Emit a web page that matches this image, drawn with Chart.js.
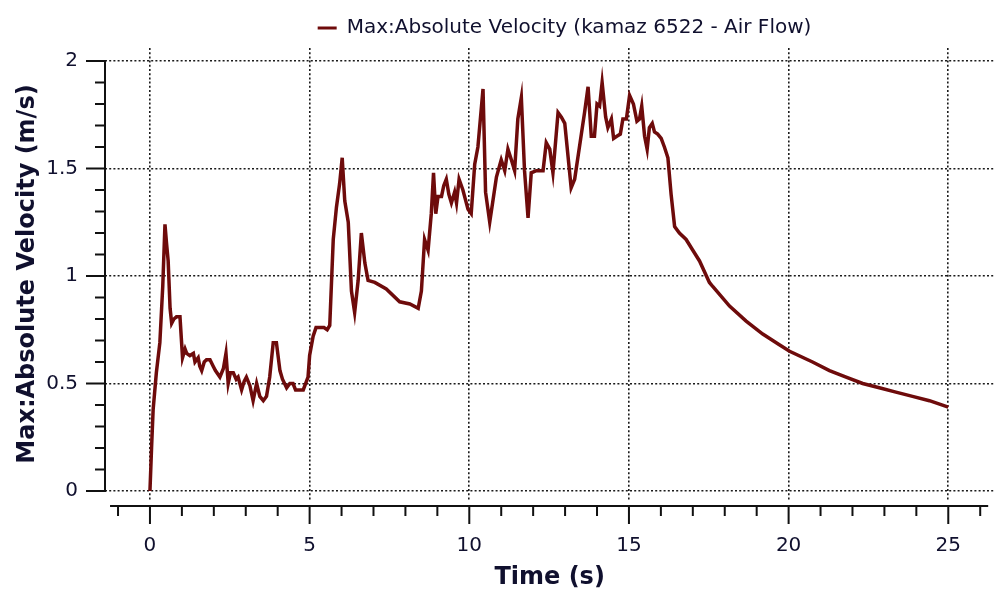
<!DOCTYPE html>
<html>
<head>
<meta charset="utf-8">
<script src="https://cdn.jsdelivr.net/npm/chart.js@4.4.0/dist/chart.umd.min.js"></script>
<style>
html,body{margin:0;padding:0;background:#fff}
#wrap{width:995px;height:592px;position:relative}
</style>
</head>
<body>
<div id="wrap"><canvas id="velChart"></canvas></div>
<script>
// values
const timeS = [0,0.05,0.1,0.2,0.31,0.4,0.47,0.52,0.57,0.63,0.68,0.75,0.83,0.94,1.02,1.1,1.15,1.25,1.36,1.41,1.51,1.56,1.62,1.7,1.77,1.88,1.98,2.05,2.19,2.3,2.38,2.45,2.52,2.61,2.7,2.76,2.87,2.95,3.02,3.13,3.23,3.34,3.44,3.55,3.65,3.75,3.86,3.96,4.07,4.15,4.28,4.38,4.48,4.56,4.64,4.8,4.9,4.95,5.0,5.11,5.2,5.32,5.45,5.55,5.63,5.74,5.84,5.94,6.02,6.1,6.21,6.31,6.41,6.52,6.62,6.73,6.83,7.04,7.4,7.82,8.14,8.4,8.5,8.6,8.71,8.81,8.88,8.95,9.02,9.13,9.2,9.28,9.36,9.44,9.54,9.6,9.68,9.8,9.96,10.06,10.17,10.27,10.43,10.51,10.64,10.74,10.85,11.0,11.11,11.21,11.32,11.42,11.52,11.63,11.73,11.84,11.94,12.1,12.31,12.41,12.52,12.62,12.78,12.88,12.99,13.19,13.3,13.51,13.61,13.72,13.82,13.92,14.0,14.08,14.16,14.27,14.34,14.45,14.52,14.62,14.73,14.81,14.92,15.02,15.14,15.25,15.33,15.4,15.49,15.57,15.64,15.73,15.8,15.9,16.01,16.11,16.22,16.32,16.43,16.58,16.79,17.0,17.21,17.52,17.63,18.15,18.67,19.19,19.71,20.03,20.75,21.28,21.8,22.32,22.84,23.36,23.88,24.41,25.0]
const maxVelocity = [0,0.2,0.38,0.55,0.69,0.95,1.24,1.15,1.07,0.85,0.78,0.8,0.81,0.81,0.62,0.66,0.64,0.63,0.64,0.6,0.62,0.58,0.56,0.6,0.61,0.61,0.58,0.56,0.53,0.57,0.64,0.5,0.55,0.55,0.52,0.53,0.47,0.51,0.53,0.49,0.42,0.5,0.44,0.42,0.44,0.53,0.69,0.69,0.56,0.52,0.48,0.5,0.5,0.47,0.47,0.47,0.51,0.53,0.63,0.72,0.76,0.76,0.76,0.75,0.77,1.17,1.32,1.43,1.55,1.35,1.25,0.93,0.83,0.98,1.2,1.06,0.98,0.97,0.94,0.88,0.87,0.85,0.93,1.17,1.12,1.29,1.48,1.29,1.37,1.37,1.42,1.45,1.38,1.34,1.39,1.34,1.45,1.4,1.31,1.29,1.52,1.6,1.87,1.39,1.25,1.35,1.46,1.54,1.49,1.59,1.54,1.49,1.73,1.83,1.49,1.27,1.48,1.49,1.49,1.62,1.59,1.48,1.76,1.74,1.71,1.41,1.45,1.66,1.76,1.88,1.65,1.65,1.8,1.79,1.9,1.74,1.69,1.73,1.64,1.65,1.66,1.73,1.73,1.84,1.8,1.72,1.73,1.79,1.65,1.59,1.69,1.71,1.67,1.66,1.64,1.6,1.55,1.38,1.23,1.2,1.17,1.12,1.07,0.97,0.95,0.86,0.79,0.73,0.68,0.65,0.6,0.56,0.53,0.5,0.48,0.46,0.44,0.42,0.39]
const seriesLabel = 'Max:Absolute Velocity (kamaz 6522 - Air Flow)'
const xTitle = 'Time (s)'
const yTitle = 'Max:Absolute Velocity (m/s)'

const lineColor = '#6e0b0b'
const textColor = '#10102e'
const fontFam = "'DejaVu Sans', sans-serif"

function isMult(v, step){ const r = v/step; return Math.abs(r - Math.round(r)) < 1e-6 }

// axis lines + major/minor tick marks, drawn off the scales
const axisMarks = {
  id:'axisMarks',
  afterLayout(chart){
    // legend sits right of centre in the reference
    chart.legend.left = 134
  },
  afterDraw(chart){
    const {ctx, scales:{x, y}, chartArea:a} = chart
    ctx.save()
    ctx.strokeStyle = '#111'
    ctx.lineWidth = 2
    ctx.beginPath()
    ctx.moveTo(a.left, y.getPixelForValue(0)+1)
    ctx.lineTo(a.left, y.getPixelForValue(2)-1)
    for(let i=0;i<=20;i++){
      const v = i/10, py = y.getPixelForValue(v)
      const len = isMult(v,0.5) ? 19 : 10
      ctx.moveTo(a.left, py); ctx.lineTo(a.left-len, py)
    }
    const ay = a.bottom + 6
    ctx.moveTo(x.getPixelForValue(-1.25), ay)
    ctx.lineTo(x.getPixelForValue(26.25), ay)
    for(let v=-1; v<=26; v++){
      const px = x.getPixelForValue(v)
      const len = isMult(v,5) ? 18 : 10
      ctx.moveTo(px, ay); ctx.lineTo(px, ay+len)
    }
    ctx.stroke()
    ctx.restore()
  }
}

// v4 takes the grid line dash from border.dash
const dotted = {display:false, dash:[2,2.2]}
const gridStyle = {color:'#1a1a1a', lineWidth:1.6, drawTicks:false}

new Chart(document.getElementById('velChart'), {
  type:'line',
  data:{datasets:[{
    label:seriesLabel,
    data:timeS.map((t,i)=>({x:t, y:maxVelocity[i]})),
    borderColor:lineColor, backgroundColor:lineColor,
    borderWidth:3.5, pointRadius:0, tension:0
  }]},
  options:{
    responsive:true, maintainAspectRatio:false, animation:false,
    layout:{padding:0},
    plugins:{
      tooltip:{enabled:false},
      legend:{
        position:'top', align:'center', maxHeight:48,
        labels:{
          color:textColor, font:{family:fontFam, size:20},
          boxWidth:19, boxHeight:3, padding:18,
          generateLabels(chart){
            return Chart.defaults.plugins.legend.labels.generateLabels(chart)
              .map(l=>Object.assign(l, {lineWidth:0, fillStyle:lineColor}))
          }
        }
      }
    },
    scales:{
      x:{
        type:'linear', min:-1.408, max:26.44,
        border:dotted,
        grid:gridStyle,
        ticks:{stepSize:5, includeBounds:false, padding:34, color:textColor, font:{family:fontFam, size:20}},
        title:{display:true, text:xTitle, color:textColor, font:{family:fontFam, size:24, weight:'bold'}, padding:{top:0,bottom:0}},
        afterFit(s){ s.height = 92 }
      },
      y:{
        min:-0.0419, max:2.0605,
        border:dotted,
        grid:gridStyle,
        ticks:{stepSize:0.5, includeBounds:false, padding:27, color:textColor, font:{family:fontFam, size:20},
          callback:v=>String(Math.round(v*10)/10)},
        title:{display:true, text:yTitle, color:textColor, font:{family:fontFam, size:24, weight:'bold'}, padding:{top:13,bottom:0}},
        afterFit(s){ s.width = 105 }
      }
    }
  },
  plugins:[axisMarks]
})
</script>
</body>
</html>
